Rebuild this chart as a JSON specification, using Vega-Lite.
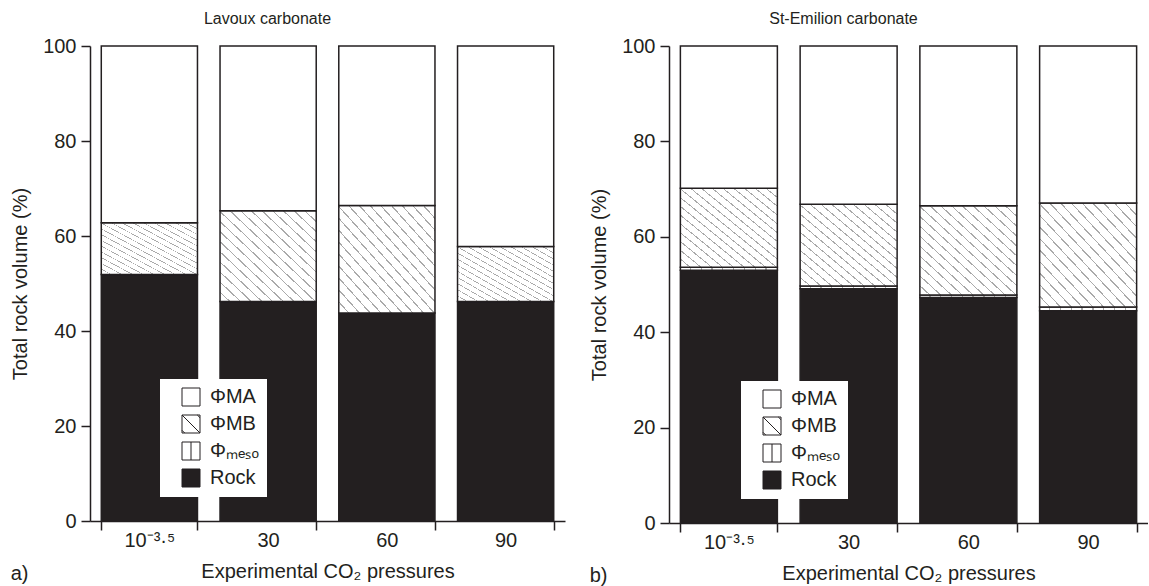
{
  "$schema": "https://vega.github.io/schema/vega-lite/v6.json",
  "background": "white",
  "padding": {"left": 10, "top": 10, "right": 0, "bottom": 0},
  "spacing": 24,
  "datasets": {
    "d": [
      {"site": "Lavoux", "pressure": "10⁻³·⁵", "rock": 51.9, "mesoTop": 51.9, "mbTop": 62.8},
      {"site": "Lavoux", "pressure": "30", "rock": 46.2, "mesoTop": 46.2, "mbTop": 65.3},
      {"site": "Lavoux", "pressure": "60", "rock": 43.8, "mesoTop": 43.8, "mbTop": 66.4},
      {"site": "Lavoux", "pressure": "90", "rock": 46.2, "mesoTop": 46.2, "mbTop": 57.8},
      {"site": "St-Emilion", "pressure": "10⁻³·⁵", "rock": 53.0, "mesoTop": 53.6, "mbTop": 70.2},
      {"site": "St-Emilion", "pressure": "30", "rock": 49.1, "mesoTop": 49.7, "mbTop": 66.8},
      {"site": "St-Emilion", "pressure": "60", "rock": 47.3, "mesoTop": 47.8, "mbTop": 66.5},
      {"site": "St-Emilion", "pressure": "90", "rock": 44.5, "mesoTop": 45.3, "mbTop": 67.1}
    ]
  },
  "config": {
    "view": {"stroke": null},
    "font": "Liberation Sans",
    "axis": {"domainColor": "#231f20", "domainWidth": 1.5, "tickColor": "#231f20", "tickWidth": 1.5, "tickSize": 9, "labelFont": "Liberation Sans", "labelFontSize": 20, "labelColor": "#231f20", "titleFont": "Liberation Sans", "titleFontSize": 20, "titleFontWeight": "normal", "titleColor": "#231f20", "grid": false, "labelPadding": 5},
    "title": {"font": "Liberation Sans", "fontSize": 20, "fontWeight": "normal", "color": "#231f20"},
    "legend": {"orient": "none", "title": null, "fillColor": "white", "padding": 8, "symbolOffset": 13, "symbolSize": 324, "symbolStrokeWidth": 1, "symbolOpacity": 1, "labelFontSize": 20, "labelFont": "Liberation Sans", "labelColor": "#231f20", "rowPadding": 5, "labelOffset": 9}
  },
  "resolve": {"scale": {"fill": "independent", "shape": "independent", "stroke": "independent"}, "legend": {"fill": "independent", "shape": "independent", "stroke": "independent"}},
  "hconcat": [
    {
      "width": 475,
      "height": 475,
      "title": {"text": "a)", "orient": "bottom", "anchor": "start", "dy": -21},
      "data": {"name": "d"},
      "transform": [{"filter": "datum.site === 'Lavoux'"}],
      "resolve": {"axis": {"x": "independent"}},
      "layer": [
        {
          "mark": {"type": "bar", "fill": "#231f20", "stroke": "#231f20", "strokeWidth": 1.5},
          "encoding": {
            "x": {"field": "pressure", "type": "nominal", "scale": {"paddingInner": 0.19, "paddingOuter": 0.095}, "axis": {"title": "Experimental CO₂ pressures", "labelAngle": 0, "tickBand": "extent", "labelPadding": 0, "titlePadding": 11}},
            "y": {"field": "rock", "type": "quantitative", "scale": {"domain": [0, 100], "nice": false}, "title": "Total rock volume (%)", "axis": {"values": [0, 20, 40, 60, 80, 100], "titlePadding": 12}},
            "y2": {"datum": 0}
          }
        },
        {
          "mark": {"type": "bar", "stroke": "#231f20", "strokeWidth": 1.5, "fill": {"gradient": "linear", "x1": 0, "y1": 0, "x2": 1, "y2": 0, "stops": [
            {"offset": 0, "color": "#fff"}, {"offset": 0.0978, "color": "#fff"}, {"offset": 0.0978, "color": "#aaa"}, {"offset": 0.1111, "color": "#aaa"},
            {"offset": 0.1111, "color": "#fff"}, {"offset": 0.2089, "color": "#fff"}, {"offset": 0.2089, "color": "#aaa"}, {"offset": 0.2222, "color": "#aaa"},
            {"offset": 0.2222, "color": "#fff"}, {"offset": 0.32, "color": "#fff"}, {"offset": 0.32, "color": "#aaa"}, {"offset": 0.3333, "color": "#aaa"},
            {"offset": 0.3333, "color": "#fff"}, {"offset": 0.4311, "color": "#fff"}, {"offset": 0.4311, "color": "#aaa"}, {"offset": 0.4444, "color": "#aaa"},
            {"offset": 0.4444, "color": "#fff"}, {"offset": 0.5422, "color": "#fff"}, {"offset": 0.5422, "color": "#aaa"}, {"offset": 0.5556, "color": "#aaa"},
            {"offset": 0.5556, "color": "#fff"}, {"offset": 0.6533, "color": "#fff"}, {"offset": 0.6533, "color": "#aaa"}, {"offset": 0.6667, "color": "#aaa"},
            {"offset": 0.6667, "color": "#fff"}, {"offset": 0.7644, "color": "#fff"}, {"offset": 0.7644, "color": "#aaa"}, {"offset": 0.7778, "color": "#aaa"},
            {"offset": 0.7778, "color": "#fff"}, {"offset": 0.8756, "color": "#fff"}, {"offset": 0.8756, "color": "#aaa"}, {"offset": 0.8889, "color": "#aaa"},
            {"offset": 0.8889, "color": "#fff"}, {"offset": 1, "color": "#fff"}]}},
          "encoding": {
            "x": {"field": "pressure", "type": "nominal", "axis": null},
            "y": {"field": "mesoTop", "type": "quantitative", "title": "Total rock volume (%)"},
            "y2": {"field": "rock"}
          }
        },
        {
          "mark": {"type": "bar", "stroke": "#231f20", "strokeWidth": 1.5, "fill": {"gradient": "linear", "x1": 0, "y1": 1, "x2": 1, "y2": 0, "stops": [
            {"offset": 0, "color": "#fff"}, {"offset": 0.0478, "color": "#fff"}, {"offset": 0.0478, "color": "#aaa"}, {"offset": 0.0556, "color": "#aaa"},
            {"offset": 0.0556, "color": "#fff"}, {"offset": 0.1033, "color": "#fff"}, {"offset": 0.1033, "color": "#aaa"}, {"offset": 0.1111, "color": "#aaa"},
            {"offset": 0.1111, "color": "#fff"}, {"offset": 0.1589, "color": "#fff"}, {"offset": 0.1589, "color": "#aaa"}, {"offset": 0.1667, "color": "#aaa"},
            {"offset": 0.1667, "color": "#fff"}, {"offset": 0.2144, "color": "#fff"}, {"offset": 0.2144, "color": "#aaa"}, {"offset": 0.2222, "color": "#aaa"},
            {"offset": 0.2222, "color": "#fff"}, {"offset": 0.27, "color": "#fff"}, {"offset": 0.27, "color": "#aaa"}, {"offset": 0.2778, "color": "#aaa"},
            {"offset": 0.2778, "color": "#fff"}, {"offset": 0.3255, "color": "#fff"}, {"offset": 0.3255, "color": "#aaa"}, {"offset": 0.3333, "color": "#aaa"},
            {"offset": 0.3333, "color": "#fff"}, {"offset": 0.3811, "color": "#fff"}, {"offset": 0.3811, "color": "#aaa"}, {"offset": 0.3889, "color": "#aaa"},
            {"offset": 0.3889, "color": "#fff"}, {"offset": 0.4366, "color": "#fff"}, {"offset": 0.4366, "color": "#aaa"}, {"offset": 0.4444, "color": "#aaa"},
            {"offset": 0.4444, "color": "#fff"}, {"offset": 0.4922, "color": "#fff"}, {"offset": 0.4922, "color": "#aaa"}, {"offset": 0.5, "color": "#aaa"},
            {"offset": 0.5, "color": "#fff"}, {"offset": 0.5478, "color": "#fff"}, {"offset": 0.5478, "color": "#aaa"}, {"offset": 0.5556, "color": "#aaa"},
            {"offset": 0.5556, "color": "#fff"}, {"offset": 0.6033, "color": "#fff"}, {"offset": 0.6033, "color": "#aaa"}, {"offset": 0.6111, "color": "#aaa"},
            {"offset": 0.6111, "color": "#fff"}, {"offset": 0.6589, "color": "#fff"}, {"offset": 0.6589, "color": "#aaa"}, {"offset": 0.6667, "color": "#aaa"},
            {"offset": 0.6667, "color": "#fff"}, {"offset": 0.7144, "color": "#fff"}, {"offset": 0.7144, "color": "#aaa"}, {"offset": 0.7222, "color": "#aaa"},
            {"offset": 0.7222, "color": "#fff"}, {"offset": 0.77, "color": "#fff"}, {"offset": 0.77, "color": "#aaa"}, {"offset": 0.7778, "color": "#aaa"},
            {"offset": 0.7778, "color": "#fff"}, {"offset": 0.8255, "color": "#fff"}, {"offset": 0.8255, "color": "#aaa"}, {"offset": 0.8333, "color": "#aaa"},
            {"offset": 0.8333, "color": "#fff"}, {"offset": 0.8811, "color": "#fff"}, {"offset": 0.8811, "color": "#aaa"}, {"offset": 0.8889, "color": "#aaa"},
            {"offset": 0.8889, "color": "#fff"}, {"offset": 0.9366, "color": "#fff"}, {"offset": 0.9366, "color": "#aaa"}, {"offset": 0.9444, "color": "#aaa"},
            {"offset": 0.9444, "color": "#fff"}, {"offset": 0.9922, "color": "#fff"}, {"offset": 0.9922, "color": "#aaa"}, {"offset": 1, "color": "#aaa"}]}},
          "encoding": {
            "x": {"field": "pressure", "type": "nominal", "axis": null},
            "y": {"field": "mbTop", "type": "quantitative", "title": "Total rock volume (%)"},
            "y2": {"field": "mesoTop"}
          }
        },
        {
          "mark": {"type": "bar", "fill": "white", "stroke": "#231f20", "strokeWidth": 1.5},
          "encoding": {
            "x": {"field": "pressure", "type": "nominal", "axis": null},
            "y": {"field": "mbTop", "type": "quantitative", "title": "Total rock volume (%)"},
            "y2": {"datum": 100}
          }
        },
        {
          "data": {"values": []},
          "mark": {"type": "point", "filled": false, "strokeWidth": 1, "opacity": 1},
          "encoding": {
            "x": {"field": "pressure", "type": "nominal", "axis": {"orient": "top", "title": "Lavoux carbonate", "labels": false, "ticks": false, "domain": false, "titleFontSize": 16, "titlePadding": 20, "titleX": 177, "titleAlign": "center"}},
            "fill": {"field": "comp", "type": "nominal", "scale": {"domain": ["ΦMA", "ΦMB", "Φₘₑₛₒ", "Rock"], "range": ["#ffffff", "#ffffff", "#ffffff", "#231f20"]}, "legend": {"legendX": 70, "legendY": 333}},
            "stroke": {"field": "comp", "type": "nominal", "scale": {"domain": ["ΦMA", "ΦMB", "Φₘₑₛₒ", "Rock"], "range": ["#231f20", "#231f20", "#231f20", "#231f20"]}, "legend": {"legendX": 70, "legendY": 333}},
            "shape": {"field": "comp", "type": "nominal", "scale": {"domain": ["ΦMA", "ΦMB", "Φₘₑₛₒ", "Rock"], "range": ["M-1,-1H1V1H-1Z", "M-1,-1H1V1H-1Z M-1,-1L1,1 M-1,0.7L-0.7,1 M0.7,-1L1,-0.7", "M-1,-1H1V1H-1Z M0,-1L0,1", "M-1,-1H1V1H-1Z"]}, "legend": {"legendX": 70, "legendY": 333}}
          }
        }
      ]
    },
    {
      "width": 479,
      "height": 477,
      "title": {"text": "b)", "orient": "bottom", "anchor": "start", "dy": -21},
      "data": {"name": "d"},
      "transform": [{"filter": "datum.site === 'St-Emilion'"}],
      "resolve": {"axis": {"x": "independent"}},
      "layer": [
        {
          "mark": {"type": "bar", "fill": "#231f20", "stroke": "#231f20", "strokeWidth": 1.5},
          "encoding": {
            "x": {"field": "pressure", "type": "nominal", "scale": {"paddingInner": 0.19, "paddingOuter": 0.095}, "axis": {"title": "Experimental CO₂ pressures", "labelAngle": 0, "tickBand": "extent", "labelPadding": 0, "titlePadding": 11}},
            "y": {"field": "rock", "type": "quantitative", "scale": {"domain": [0, 100], "nice": false}, "title": "Total rock volume (%)", "axis": {"values": [0, 20, 40, 60, 80, 100], "titlePadding": 12}},
            "y2": {"datum": 0}
          }
        },
        {
          "mark": {"type": "bar", "stroke": "#231f20", "strokeWidth": 1.5, "fill": {"gradient": "linear", "x1": 0, "y1": 0, "x2": 1, "y2": 0, "stops": [
            {"offset": 0, "color": "#fff"}, {"offset": 0.0978, "color": "#fff"}, {"offset": 0.0978, "color": "#aaa"}, {"offset": 0.1111, "color": "#aaa"},
            {"offset": 0.1111, "color": "#fff"}, {"offset": 0.2089, "color": "#fff"}, {"offset": 0.2089, "color": "#aaa"}, {"offset": 0.2222, "color": "#aaa"},
            {"offset": 0.2222, "color": "#fff"}, {"offset": 0.32, "color": "#fff"}, {"offset": 0.32, "color": "#aaa"}, {"offset": 0.3333, "color": "#aaa"},
            {"offset": 0.3333, "color": "#fff"}, {"offset": 0.4311, "color": "#fff"}, {"offset": 0.4311, "color": "#aaa"}, {"offset": 0.4444, "color": "#aaa"},
            {"offset": 0.4444, "color": "#fff"}, {"offset": 0.5422, "color": "#fff"}, {"offset": 0.5422, "color": "#aaa"}, {"offset": 0.5556, "color": "#aaa"},
            {"offset": 0.5556, "color": "#fff"}, {"offset": 0.6533, "color": "#fff"}, {"offset": 0.6533, "color": "#aaa"}, {"offset": 0.6667, "color": "#aaa"},
            {"offset": 0.6667, "color": "#fff"}, {"offset": 0.7644, "color": "#fff"}, {"offset": 0.7644, "color": "#aaa"}, {"offset": 0.7778, "color": "#aaa"},
            {"offset": 0.7778, "color": "#fff"}, {"offset": 0.8756, "color": "#fff"}, {"offset": 0.8756, "color": "#aaa"}, {"offset": 0.8889, "color": "#aaa"},
            {"offset": 0.8889, "color": "#fff"}, {"offset": 1, "color": "#fff"}]}},
          "encoding": {
            "x": {"field": "pressure", "type": "nominal", "axis": null},
            "y": {"field": "mesoTop", "type": "quantitative", "title": "Total rock volume (%)"},
            "y2": {"field": "rock"}
          }
        },
        {
          "mark": {"type": "bar", "stroke": "#231f20", "strokeWidth": 1.5, "fill": {"gradient": "linear", "x1": 0, "y1": 1, "x2": 1, "y2": 0, "stops": [
            {"offset": 0, "color": "#fff"}, {"offset": 0.0478, "color": "#fff"}, {"offset": 0.0478, "color": "#aaa"}, {"offset": 0.0556, "color": "#aaa"},
            {"offset": 0.0556, "color": "#fff"}, {"offset": 0.1033, "color": "#fff"}, {"offset": 0.1033, "color": "#aaa"}, {"offset": 0.1111, "color": "#aaa"},
            {"offset": 0.1111, "color": "#fff"}, {"offset": 0.1589, "color": "#fff"}, {"offset": 0.1589, "color": "#aaa"}, {"offset": 0.1667, "color": "#aaa"},
            {"offset": 0.1667, "color": "#fff"}, {"offset": 0.2144, "color": "#fff"}, {"offset": 0.2144, "color": "#aaa"}, {"offset": 0.2222, "color": "#aaa"},
            {"offset": 0.2222, "color": "#fff"}, {"offset": 0.27, "color": "#fff"}, {"offset": 0.27, "color": "#aaa"}, {"offset": 0.2778, "color": "#aaa"},
            {"offset": 0.2778, "color": "#fff"}, {"offset": 0.3255, "color": "#fff"}, {"offset": 0.3255, "color": "#aaa"}, {"offset": 0.3333, "color": "#aaa"},
            {"offset": 0.3333, "color": "#fff"}, {"offset": 0.3811, "color": "#fff"}, {"offset": 0.3811, "color": "#aaa"}, {"offset": 0.3889, "color": "#aaa"},
            {"offset": 0.3889, "color": "#fff"}, {"offset": 0.4366, "color": "#fff"}, {"offset": 0.4366, "color": "#aaa"}, {"offset": 0.4444, "color": "#aaa"},
            {"offset": 0.4444, "color": "#fff"}, {"offset": 0.4922, "color": "#fff"}, {"offset": 0.4922, "color": "#aaa"}, {"offset": 0.5, "color": "#aaa"},
            {"offset": 0.5, "color": "#fff"}, {"offset": 0.5478, "color": "#fff"}, {"offset": 0.5478, "color": "#aaa"}, {"offset": 0.5556, "color": "#aaa"},
            {"offset": 0.5556, "color": "#fff"}, {"offset": 0.6033, "color": "#fff"}, {"offset": 0.6033, "color": "#aaa"}, {"offset": 0.6111, "color": "#aaa"},
            {"offset": 0.6111, "color": "#fff"}, {"offset": 0.6589, "color": "#fff"}, {"offset": 0.6589, "color": "#aaa"}, {"offset": 0.6667, "color": "#aaa"},
            {"offset": 0.6667, "color": "#fff"}, {"offset": 0.7144, "color": "#fff"}, {"offset": 0.7144, "color": "#aaa"}, {"offset": 0.7222, "color": "#aaa"},
            {"offset": 0.7222, "color": "#fff"}, {"offset": 0.77, "color": "#fff"}, {"offset": 0.77, "color": "#aaa"}, {"offset": 0.7778, "color": "#aaa"},
            {"offset": 0.7778, "color": "#fff"}, {"offset": 0.8255, "color": "#fff"}, {"offset": 0.8255, "color": "#aaa"}, {"offset": 0.8333, "color": "#aaa"},
            {"offset": 0.8333, "color": "#fff"}, {"offset": 0.8811, "color": "#fff"}, {"offset": 0.8811, "color": "#aaa"}, {"offset": 0.8889, "color": "#aaa"},
            {"offset": 0.8889, "color": "#fff"}, {"offset": 0.9366, "color": "#fff"}, {"offset": 0.9366, "color": "#aaa"}, {"offset": 0.9444, "color": "#aaa"},
            {"offset": 0.9444, "color": "#fff"}, {"offset": 0.9922, "color": "#fff"}, {"offset": 0.9922, "color": "#aaa"}, {"offset": 1, "color": "#aaa"}]}},
          "encoding": {
            "x": {"field": "pressure", "type": "nominal", "axis": null},
            "y": {"field": "mbTop", "type": "quantitative", "title": "Total rock volume (%)"},
            "y2": {"field": "mesoTop"}
          }
        },
        {
          "mark": {"type": "bar", "fill": "white", "stroke": "#231f20", "strokeWidth": 1.5},
          "encoding": {
            "x": {"field": "pressure", "type": "nominal", "axis": null},
            "y": {"field": "mbTop", "type": "quantitative", "title": "Total rock volume (%)"},
            "y2": {"datum": 100}
          }
        },
        {
          "data": {"values": []},
          "mark": {"type": "point", "filled": false, "strokeWidth": 1, "opacity": 1},
          "encoding": {
            "x": {"field": "pressure", "type": "nominal", "axis": {"orient": "top", "title": "St-Emilion carbonate", "labels": false, "ticks": false, "domain": false, "titleFontSize": 16, "titlePadding": 20, "titleX": 174, "titleAlign": "center"}},
            "fill": {"field": "comp", "type": "nominal", "scale": {"domain": ["ΦMA", "ΦMB", "Φₘₑₛₒ", "Rock"], "range": ["#ffffff", "#ffffff", "#ffffff", "#231f20"]}, "legend": {"legendX": 72, "legendY": 335}},
            "stroke": {"field": "comp", "type": "nominal", "scale": {"domain": ["ΦMA", "ΦMB", "Φₘₑₛₒ", "Rock"], "range": ["#231f20", "#231f20", "#231f20", "#231f20"]}, "legend": {"legendX": 72, "legendY": 335}},
            "shape": {"field": "comp", "type": "nominal", "scale": {"domain": ["ΦMA", "ΦMB", "Φₘₑₛₒ", "Rock"], "range": ["M-1,-1H1V1H-1Z", "M-1,-1H1V1H-1Z M-1,-1L1,1 M-1,0.7L-0.7,1 M0.7,-1L1,-0.7", "M-1,-1H1V1H-1Z M0,-1L0,1", "M-1,-1H1V1H-1Z"]}, "legend": {"legendX": 72, "legendY": 335}}
          }
        }
      ]
    }
  ]
}
